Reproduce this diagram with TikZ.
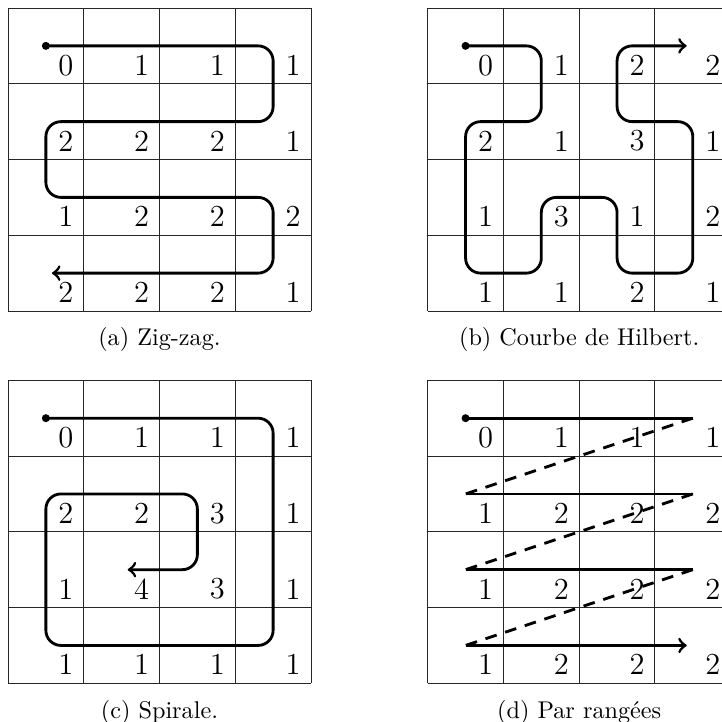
\documentclass[tikz,border=0pt]{standalone}
\usetikzlibrary{arrows.meta}
\begin{document}
\begin{tikzpicture}[x=0.4255pt,y=-0.4255pt,
  gridline/.style={line width=0.4pt, draw=black!85},
  curve/.style={line width=1.2pt, rounded corners=6.4pt, line join=round},
  arrowcurve/.style={curve, -{Classical TikZ Rightarrow[length=3.6pt,width=6.6pt]}, shorten >=2.6pt},
  dashcurve/.style={line width=1.2pt, dash pattern=on 5pt off 3.8pt},
  digit/.style={font=\fontsize{13}{15}\selectfont, inner sep=0pt},
  captext/.style={font=\fontsize{10.3}{12}\selectfont, anchor=base, inner sep=0pt},
  cellunits/.style={x=32.232pt, y=-32.232pt}
]
\clip (0,0) rectangle (722,722);

% ---------- (a) Zig-zag ----------
\begin{scope}[shift={(8,8)}, cellunits]
  \foreach \k in {0,...,4} {\draw[gridline] (\k,0) -- (\k,4); \draw[gridline] (0,\k) -- (4,\k);}
  \foreach \i in {0,...,3} \foreach \j in {0,...,3} \coordinate (a-\i-\j) at (\i+0.5,\j+0.5);
  \foreach \row [count=\j from 0] in {{0,1,1,1},{2,2,2,1},{1,2,2,2},{2,2,2,1}}
    \foreach \v [count=\i from 0] in \row \node[digit] (a-d-\i-\j) at (\i+0.765,\j+0.755) {\v};
  \draw[arrowcurve] (a-0-0) -- (a-3-0) -- (a-3-1) -- (a-0-1) -- (a-0-2) -- (a-3-2) -- (a-3-3) -- (a-0-3);
  \fill (a-0-0) circle[radius=1.7pt];
  \node[captext] (capa) at (2,4.46) {(a) Zig-zag.};
\end{scope}

% ---------- (b) Hilbert ----------
\begin{scope}[shift={(427.7,8)}, cellunits]
  \foreach \k in {0,...,4} {\draw[gridline] (\k,0) -- (\k,4); \draw[gridline] (0,\k) -- (4,\k);}
  \foreach \i in {0,...,3} \foreach \j in {0,...,3} \coordinate (b-\i-\j) at (\i+0.5,\j+0.5);
  \foreach \row [count=\j from 0] in {{0,1,2,2},{2,1,3,1},{1,3,1,2},{1,1,2,1}}
    \foreach \v [count=\i from 0] in \row \node[digit] (b-d-\i-\j) at (\i+0.765,\j+0.755) {\v};
  \draw[arrowcurve] (b-0-0) -- (b-1-0) -- (b-1-1) -- (b-0-1) -- (b-0-3) -- (b-1-3) -- (b-1-2) -- (b-2-2) -- (b-2-3) -- (b-3-3) -- (b-3-1) -- (b-2-1) -- (b-2-0) -- (b-3-0);
  \fill (b-0-0) circle[radius=1.7pt];
  \node[captext] (capb) at (2,4.46) {(b) Courbe de Hilbert.};
\end{scope}

% ---------- (c) Spirale ----------
\begin{scope}[shift={(8,380.3)}, cellunits]
  \foreach \k in {0,...,4} {\draw[gridline] (\k,0) -- (\k,4); \draw[gridline] (0,\k) -- (4,\k);}
  \foreach \i in {0,...,3} \foreach \j in {0,...,3} \coordinate (c-\i-\j) at (\i+0.5,\j+0.5);
  \foreach \row [count=\j from 0] in {{0,1,1,1},{2,2,3,1},{1,4,3,1},{1,1,1,1}}
    \foreach \v [count=\i from 0] in \row \node[digit] (c-d-\i-\j) at (\i+0.765,\j+0.755) {\v};
  \draw[arrowcurve] (c-0-0) -- (c-3-0) -- (c-3-3) -- (c-0-3) -- (c-0-1) -- (c-2-1) -- (c-2-2) -- (c-1-2);
  \fill (c-0-0) circle[radius=1.7pt];
  \node[captext] (capc) at (2,4.46) {(c) Spirale.};
\end{scope}

% ---------- (d) Par rangees ----------
\begin{scope}[shift={(427.7,380.3)}, cellunits]
  \foreach \k in {0,...,4} {\draw[gridline] (\k,0) -- (\k,4); \draw[gridline] (0,\k) -- (4,\k);}
  \foreach \i in {0,...,3} \foreach \j in {0,...,3} \coordinate (d-\i-\j) at (\i+0.5,\j+0.5);
  \foreach \row [count=\j from 0] in {{0,1,1,1},{1,2,2,2},{1,2,2,2},{1,2,2,2}}
    \foreach \v [count=\i from 0] in \row \node[digit] (d-d-\i-\j) at (\i+0.765,\j+0.755) {\v};
  \draw[curve] (d-0-0) -- (d-3-0);
  \draw[dashcurve] (d-3-0) -- (d-0-1);
  \draw[curve] (d-0-1) -- (d-3-1);
  \draw[dashcurve] (d-3-1) -- (d-0-2);
  \draw[curve] (d-0-2) -- (d-3-2);
  \draw[dashcurve] (d-3-2) -- (d-0-3);
  \draw[arrowcurve] (d-0-3) -- (d-3-3);
  \fill (d-0-0) circle[radius=1.7pt];
  \node[captext] (capd) at (2,4.46) {(d) Par rangées};
\end{scope}
\end{tikzpicture}
\end{document}
